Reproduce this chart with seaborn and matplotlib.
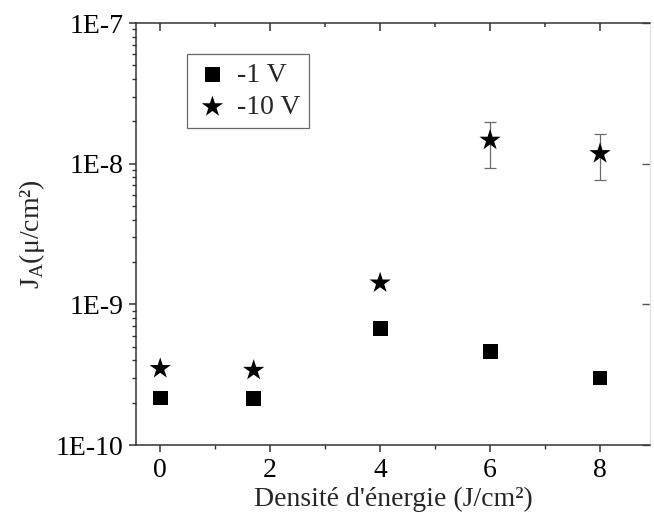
import matplotlib
matplotlib.use('Agg')
import matplotlib.pyplot as plt
import matplotlib.ticker as mticker
import numpy as np
import pandas as pd
import seaborn as sns

# Data
energy = [0, 1.7, 4, 6, 8]
j_1v = [2.16e-10, 2.13e-10, 6.7e-10, 4.6e-10, 3.0e-10]
j_10v = [3.5e-10, 3.4e-10, 1.42e-9, 1.47e-8, 1.18e-8]
# error bars only on the two last -10 V points
err_x = [6, 8]
err_y = [1.47e-8, 1.18e-8]
err_lo = [9.35e-9, 7.6e-9]
err_hi = [1.99e-8, 1.62e-8]
series_names = ['-1 V', '-10 V']
ytick_vals = [1e-10, 1e-9, 1e-8, 1e-7]
ytick_labels = ['1E-10', '1E-9', '1E-8', '1E-7']
xtick_vals = [0, 2, 4, 6, 8]

df = pd.DataFrame({
    'x': energy * 2,
    'y': j_1v + j_10v,
    'serie': [series_names[0]] * len(energy) + [series_names[1]] * len(energy),
})

sns.set_style('ticks')
plt.rcParams['font.family'] = ['Liberation Serif', 'DejaVu Serif']
plt.rcParams['mathtext.fontset'] = 'custom'
plt.rcParams['mathtext.rm'] = 'Liberation Serif'

fig = plt.figure(figsize=(6.54, 5.23), dpi=100)
ax = fig.add_axes([0.208, 0.149, 0.786, 0.807])

# Error bars (drawn first, under the markers)
yerr = [np.array(err_y) - np.array(err_lo), np.array(err_hi) - np.array(err_y)]
ax.errorbar(err_x, err_y, yerr=yerr, fmt='none', ecolor='#6a6a6a',
            elinewidth=0.9, capsize=4, capthick=0.9, zorder=1)

sns.scatterplot(data=df[df['serie'] == series_names[0]], x='x', y='y',
                marker='s', s=115, color='black', edgecolor='none',
                label=series_names[0], ax=ax, zorder=3)
sns.scatterplot(data=df[df['serie'] == series_names[1]], x='x', y='y',
                marker='*', s=260, color='black', edgecolor='none',
                label=series_names[1], ax=ax, zorder=3)

ax.set_yscale('log')
ax.set_ylim(1e-10, 1e-7)
ax.set_xlim(-0.44, 8.91)
ax.set_yticks(ytick_vals)
ax.set_yticklabels(ytick_labels)
ax.yaxis.set_minor_locator(mticker.LogLocator(base=10, subs=np.arange(2, 10)))
ax.yaxis.set_minor_formatter(mticker.NullFormatter())
ax.set_xticks(xtick_vals)
ax.set_xticklabels([str(v) for v in xtick_vals])
ax.xaxis.set_minor_locator(mticker.MultipleLocator(1))

ax.tick_params(axis='both', which='major', labelsize=20, length=5, width=1.1,
               color='#333333', labelcolor='black', pad=4)
ax.tick_params(axis='both', which='minor', length=3, width=1.0, color='#333333')

for side in ['left', 'bottom', 'top']:
    ax.spines[side].set_linewidth(1.1)
    ax.spines[side].set_color('#333333')
ax.spines['right'].set_linewidth(1.0)
ax.spines['right'].set_color('#e2e2e2')

# inward ticks on the top and right sides
top = ax.secondary_xaxis('top')
top.set_xticks(xtick_vals)
top.xaxis.set_minor_locator(mticker.MultipleLocator(1))
top.tick_params(which='both', direction='in', labeltop=False, color='#333333', width=1.1)
top.tick_params(which='major', length=6)
top.tick_params(which='minor', length=3)
top.spines['top'].set_visible(False)
right = ax.secondary_yaxis('right')
right.set_yticks(ytick_vals)
right.yaxis.set_minor_formatter(mticker.NullFormatter())
right.tick_params(which='both', direction='in', labelright=False, color='#555555', width=1.0)
right.tick_params(which='major', length=6)
right.tick_params(which='minor', length=0)
right.spines['right'].set_visible(False)

ax.set_xlabel("Densité d'énergie (J/cm²)", fontsize=20, labelpad=3)
ax.set_ylabel(r'J$_\mathregular{A}$(μ/cm²)', fontsize=20, labelpad=6)

leg = ax.legend(loc='upper left', bbox_to_anchor=(0.1, 0.927), fontsize=20,
                frameon=True, fancybox=False, edgecolor='#444444',
                handletextpad=0.3, borderpad=0.3, labelspacing=0.25,
                handlelength=1.2, borderaxespad=0)
leg.get_frame().set_linewidth(0.9)

fig.savefig('out.png', dpi=100)
